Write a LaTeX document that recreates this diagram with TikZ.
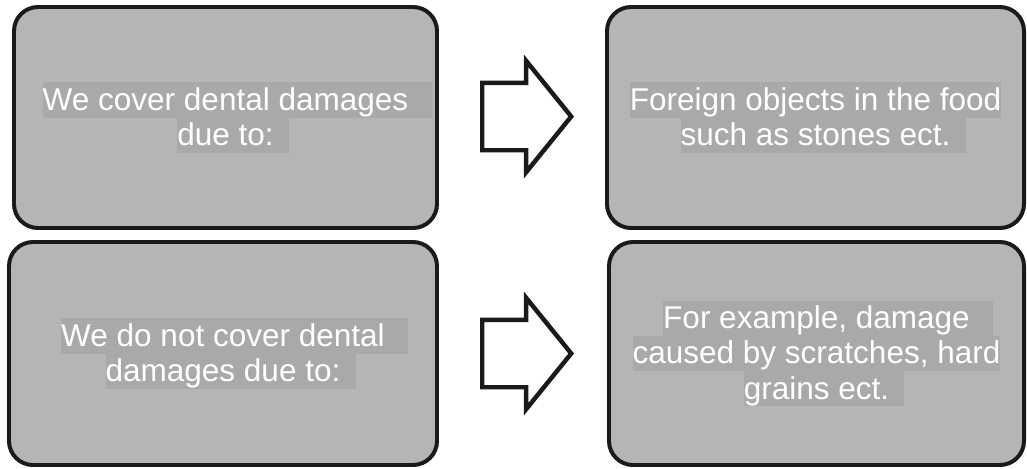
\documentclass[tikz,border=0pt]{standalone}
\usepackage{fontspec}
\setmainfont{Liberation Sans}
\usetikzlibrary{shapes.arrows, positioning}
\definecolor{cfill}{HTML}{B4B5B4}
\definecolor{chl}{HTML}{A8A9A8}
\definecolor{cline}{HTML}{1A1A1A}
\newlength\px
\setlength\px{0.03cm}
% highlighted line, optional trailing highlight past the text
\newcommand\hl[2][0pt]{{\setlength\fboxsep{0pt}\colorbox{chl}{\rule[-6pt]{0pt}{29.9pt}#2}\rlap{\colorbox{chl}{\rule[-6pt]{0pt}{29.9pt}\hspace*{#1}}}}}
\tikzset{
  every picture/.style={line width=3.4pt},
  card/.style={draw=cline, fill=cfill, rounded corners=24\px, align=center, inner sep=0pt,
    text=white, font=\fontsize{26.9}{29.9}\selectfont},
  blockarrow/.style={single arrow, draw=cline, fill=white, line width=3.8pt,
    inner xsep=0pt, inner ysep=31.5\px, minimum height=89\px,
    single arrow head extend=22\px, single arrow tip angle=102, anchor=tail},
}

\begin{document}
\begin{tikzpicture}[x=1\px, y=-1\px]
  \useasboundingbox (0,0) rectangle (1027,468);
  \node[card, minimum width=423\px, minimum height=221\px] (cov) at (225.5,117.5)
    {\hl[21pt]{We cover dental damages}\\\hl[13pt]{due to:}};
  \node[card, minimum width=417\px, minimum height=221\px] (covx) at (815.5,117.5)
    {\hl{Foreign objects in the food}\\\hl[13pt]{such as stones ect.}};
  \node[card, minimum width=428\px, minimum height=223\px] (ncov) at (223,353.5)
    {\hl[20pt]{We do not cover dental}\\\hl[13.5pt]{damages due to:}};
  \node[card, minimum width=415\px, minimum height=223\px] (ncovx) at (816.5,353.5)
    {\hl[20pt]{For example, damage}\\\hl{caused by scratches, hard}\\\hl[13pt]{grains ect.}};
  \node[blockarrow] (a1) at (480,116.5) {};
  \node[blockarrow] (a2) at (480,353.5) {};
\end{tikzpicture}
\end{document}
